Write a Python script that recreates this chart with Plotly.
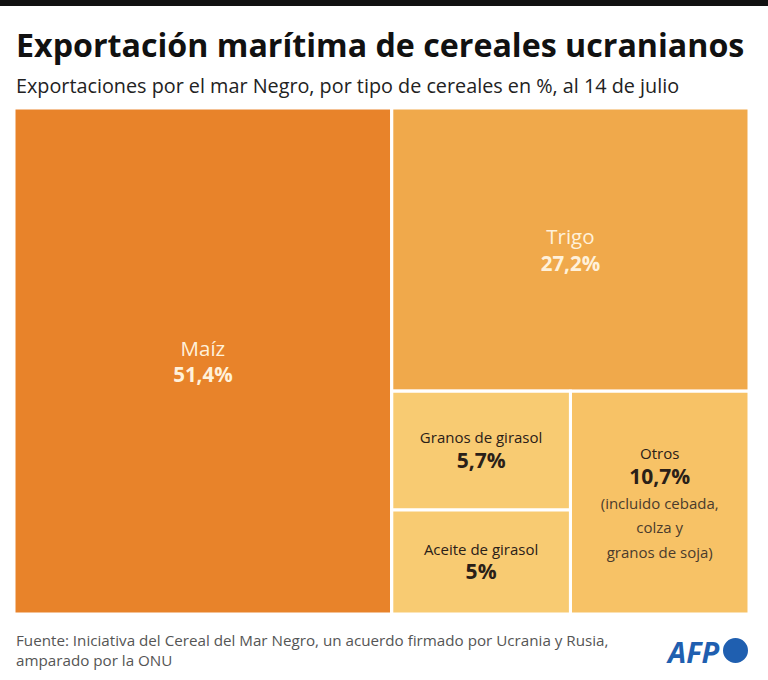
import plotly.graph_objects as go

# ---- data ----
ids = ["root", "Maiz", "resto", "Trigo", "abajo", "girasol", "Granos", "Aceite", "Otros"]
parents = ["", "root", "root", "resto", "resto", "abajo", "girasol", "girasol", "abajo"]
values = [0, 51.4, 0, 27.2, 0, 0, 5.7, 5.0, 10.7]
labels = ["", "Maíz", "", "Trigo", "", "", "Granos de girasol", "Aceite de girasol", "Otros"]
pct_text = ["", "51,4%", "", "27,2%", "", "", "5,7%", "5%", "10,7%"]
notes = ["", "", "", "", "", "", "", "", "(incluido cebada,<br>colza y<br>granos de soja)"]

colors = ["#FFFFFF", "#E8832A", "#F0A94B", "#F0A94B", "#F8CB72", "#F8CB72",
          "#F8CB72", "#F8CB72", "#F7C266"]
light = "#FFF1DA"
dark = "#2A2018"

W, H = 768, 680
ML, MR, MT, MB = 14, 19, 108, 66
FONT = "Open Sans"


def px(x):
    return (x - ML) / (W - ML - MR)


def py(y):
    return 1 - (y - MT) / (H - MT - MB)


texts = []
tcolors = []
tsizes = []
for i, lab in enumerate(labels):
    if not lab:
        texts.append("")
        tcolors.append(dark)
        tsizes.append(16)
        continue
    if i in (1, 3):
        t = f"{lab}<br><b>{pct_text[i]}</b>"
        tcolors.append(light)
        tsizes.append(20.5)
    else:
        t = f"<span style='font-size:15px'>{lab}</span><br><b style='font-size:21px'>{pct_text[i]}</b>"
        if notes[i]:
            t += f"<br><span style='font-size:15px;color:#4A3B2C'>{notes[i]}</span>"
        tcolors.append(dark)
        tsizes.append(19)
    texts.append(t)

fig = go.Figure(go.Treemap(
    ids=ids,
    parents=parents,
    values=values,
    labels=labels,
    text=texts,
    textinfo="text",
    branchvalues="remainder",
    sort=False,
    marker=dict(colors=colors, line=dict(color="white", width=3),
                pad=dict(t=0, l=0, r=0, b=0), depthfade=False),
    tiling=dict(packing="slice-dice", pad=0),
    pathbar=dict(visible=False),
    textposition="middle center",
    textfont=dict(family=FONT, size=tsizes, color=tcolors),
    hoverinfo="skip",
    root=dict(color="white"),
))

annotations = [
    dict(text="<b>Exportación marítima de cereales ucranianos</b>", x=px(14), y=py(44),
         xanchor="left", yanchor="middle", showarrow=False,
         font=dict(family=FONT, size=32.2, color="#111111")),
    dict(text="Exportaciones por el mar Negro, por tipo de cereales en %, al 14 de julio",
         x=px(14), y=py(85), xanchor="left", yanchor="middle", showarrow=False,
         font=dict(family=FONT, size=19.8, color="#222222")),
    dict(text="Fuente: Iniciativa del Cereal del Mar Negro, un acuerdo firmado por Ucrania y Rusia,"
              "<br>amparado por la ONU",
         x=px(14), y=py(650), xanchor="left", yanchor="middle", align="left", showarrow=False,
         font=dict(family=FONT, size=15.2, color="#555555")),
    dict(text="<b><i>AFP</i></b>", x=px(722), y=py(651), xanchor="right", yanchor="middle",
         showarrow=False, font=dict(family=FONT, size=29, color="#1F5FB0", weight=900)),
]

shapes = [
    dict(type="rect", xref="paper", yref="paper", x0=px(0), x1=px(768), y0=py(0), y1=py(6),
         fillcolor="#111111", line=dict(width=0), layer="above"),
    dict(type="circle", xref="paper", yref="paper", x0=px(723), x1=px(748), y0=py(638), y1=py(663),
         fillcolor="#1F5FB0", line=dict(width=0)),
]

fig.update_layout(
    width=W, height=H,
    margin=dict(l=ML, r=MR, t=MT, b=MB),
    paper_bgcolor="white",
    plot_bgcolor="white",
    annotations=annotations,
    shapes=shapes,
    font=dict(family=FONT),
)

fig.write_html("out.html")
